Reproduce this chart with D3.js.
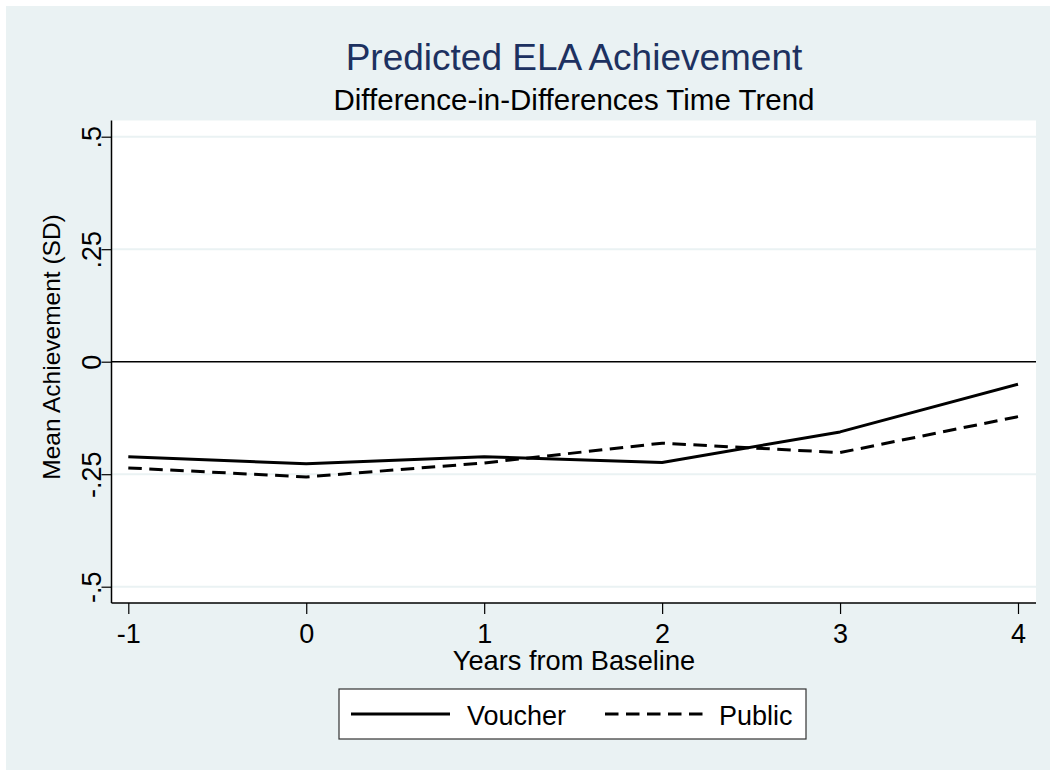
<!DOCTYPE html>
<html><head><meta charset="utf-8">
<script src="https://cdn.jsdelivr.net/npm/d3@7"></script>
<style>
html,body{margin:0;padding:0;background:#fff;}
svg{display:block;font-family:"Liberation Sans",Arial,Helvetica,sans-serif;}
</style></head>
<body>
<script>
const years = [-1, 0, 1, 2, 3, 4];
const voucher = [-0.211, -0.227, -0.211, -0.224, -0.156, -0.05];
const publicS = [-0.236, -0.256, -0.225, -0.181, -0.202, -0.122];
const yTicks = [-0.5, -0.25, 0, 0.25, 0.5];
const yTickLabels = ["-.5", "-.25", "0", ".25", ".5"];
const xTickLabels = ["-1", "0", "1", "2", "3", "4"];
const seriesNames = ["Voucher", "Public"];
const titleText = "Predicted ELA Achievement";
const subtitleText = "Difference-in-Differences Time Trend";
const xTitle = "Years from Baseline";
const yTitle = "Mean Achievement (SD)";

const W = 1050, H = 770;
const FONT = "Liberation Sans, Arial, sans-serif";
const DASH = "13.5,7.5";
const svg = d3.select("body").append("svg").attr("width", W).attr("height", H);
svg.append("rect").attr("x", 6).attr("y", 6).attr("width", W - 6).attr("height", H - 6).attr("fill", "#eaf2f3");

const plot = {left: 111.5, right: 1036, top: 120.5, bottom: 603};
const x = d3.scaleLinear().domain([-1, 4]).range([128.3, 1018]);
const y = d3.scaleLinear().domain([-0.5, 0.5]).range([586.7, 136.7]);

svg.append("rect").attr("x", plot.left).attr("y", plot.top)
  .attr("width", plot.right - plot.left).attr("height", plot.bottom - plot.top).attr("fill", "#fff");

// gridlines
svg.append("g").selectAll("line").data(yTicks.filter(d => d !== 0)).join("line")
  .attr("x1", plot.left).attr("x2", plot.right)
  .attr("y1", d => y(d)).attr("y2", d => y(d))
  .attr("stroke", "#eaf2f3").attr("stroke-width", 2);

// zero reference line
svg.append("line").attr("x1", plot.left).attr("x2", plot.right)
  .attr("y1", y(0)).attr("y2", y(0)).attr("stroke", "#000").attr("stroke-width", 1.5);

// y axis
const yAxis = d3.axisLeft(y).tickValues(yTicks).tickSize(10).tickSizeOuter(0)
  .tickFormat((d, i) => yTickLabels[i]);
const gy = svg.append("g").attr("transform", `translate(${plot.left},0)`).call(yAxis);
gy.select(".domain").attr("d", `M0,${plot.top}V${plot.bottom}`).attr("stroke", "#000").attr("stroke-width", 1.5);
gy.selectAll(".tick line").attr("stroke", "#000").attr("stroke-width", 1.2);
gy.selectAll(".tick text")
  .attr("x", null).attr("dy", null)
  .attr("transform", "translate(-10.5,0) rotate(-90)")
  .attr("text-anchor", "middle").attr("y", 0)
  .attr("font-size", 27).attr("fill", "#000").attr("font-family", FONT);

// x axis
const xAxis = d3.axisBottom(x).tickValues(years).tickSize(11).tickSizeOuter(0)
  .tickFormat((d, i) => xTickLabels[i]);
const gx = svg.append("g").attr("transform", `translate(0,${plot.bottom})`).call(xAxis);
gx.select(".domain").attr("d", `M${plot.left},0H${plot.right}`).attr("stroke", "#000").attr("stroke-width", 1.5);
gx.selectAll(".tick line").attr("stroke", "#000").attr("stroke-width", 1.2);
gx.selectAll(".tick text").attr("y", 40).attr("dy", null)
  .attr("font-size", 27).attr("fill", "#000").attr("font-family", FONT);

// lines
const lineGen = d3.line().x((d, i) => x(years[i])).y(d => y(d));
svg.append("path").datum(voucher).attr("d", lineGen).attr("fill", "none")
  .attr("stroke", "#000").attr("stroke-width", 3).attr("stroke-linejoin", "round");
svg.append("path").datum(publicS).attr("d", lineGen).attr("fill", "none")
  .attr("stroke", "#000").attr("stroke-width", 3).attr("stroke-dasharray", DASH);

// titles
svg.append("text").attr("x", 574).attr("y", 70).attr("text-anchor", "middle")
  .attr("font-size", 37).attr("fill", "#1d3160").text(titleText);
svg.append("text").attr("x", 574).attr("y", 110).attr("text-anchor", "middle")
  .attr("font-size", 29.5).attr("fill", "#000").text(subtitleText);
svg.append("text").attr("x", 574).attr("y", 670).attr("text-anchor", "middle")
  .attr("font-size", 27.2).attr("fill", "#000").text(xTitle);
svg.append("text").attr("transform", `translate(60,347) rotate(-90)`)
  .attr("text-anchor", "middle").attr("font-size", 24.5).attr("fill", "#000").text(yTitle);

// legend
const leg = svg.append("g");
leg.append("rect").attr("x", 339).attr("y", 689).attr("width", 467).attr("height", 50)
  .attr("fill", "#fff").attr("stroke", "#333").attr("stroke-width", 1.2);
const legItems = [
  {name: seriesNames[0], x0: 351, x1: 450, tx: 467, dash: null},
  {name: seriesNames[1], x0: 605, x1: 705, tx: 719, dash: DASH}
];
legItems.forEach(it => {
  leg.append("line").attr("x1", it.x0).attr("x2", it.x1).attr("y1", 714).attr("y2", 714)
    .attr("stroke", "#000").attr("stroke-width", 3).attr("stroke-dasharray", it.dash);
  leg.append("text").attr("x", it.tx).attr("y", 725).attr("font-size", 27).attr("fill", "#000").text(it.name);
});
</script>
</body></html>
